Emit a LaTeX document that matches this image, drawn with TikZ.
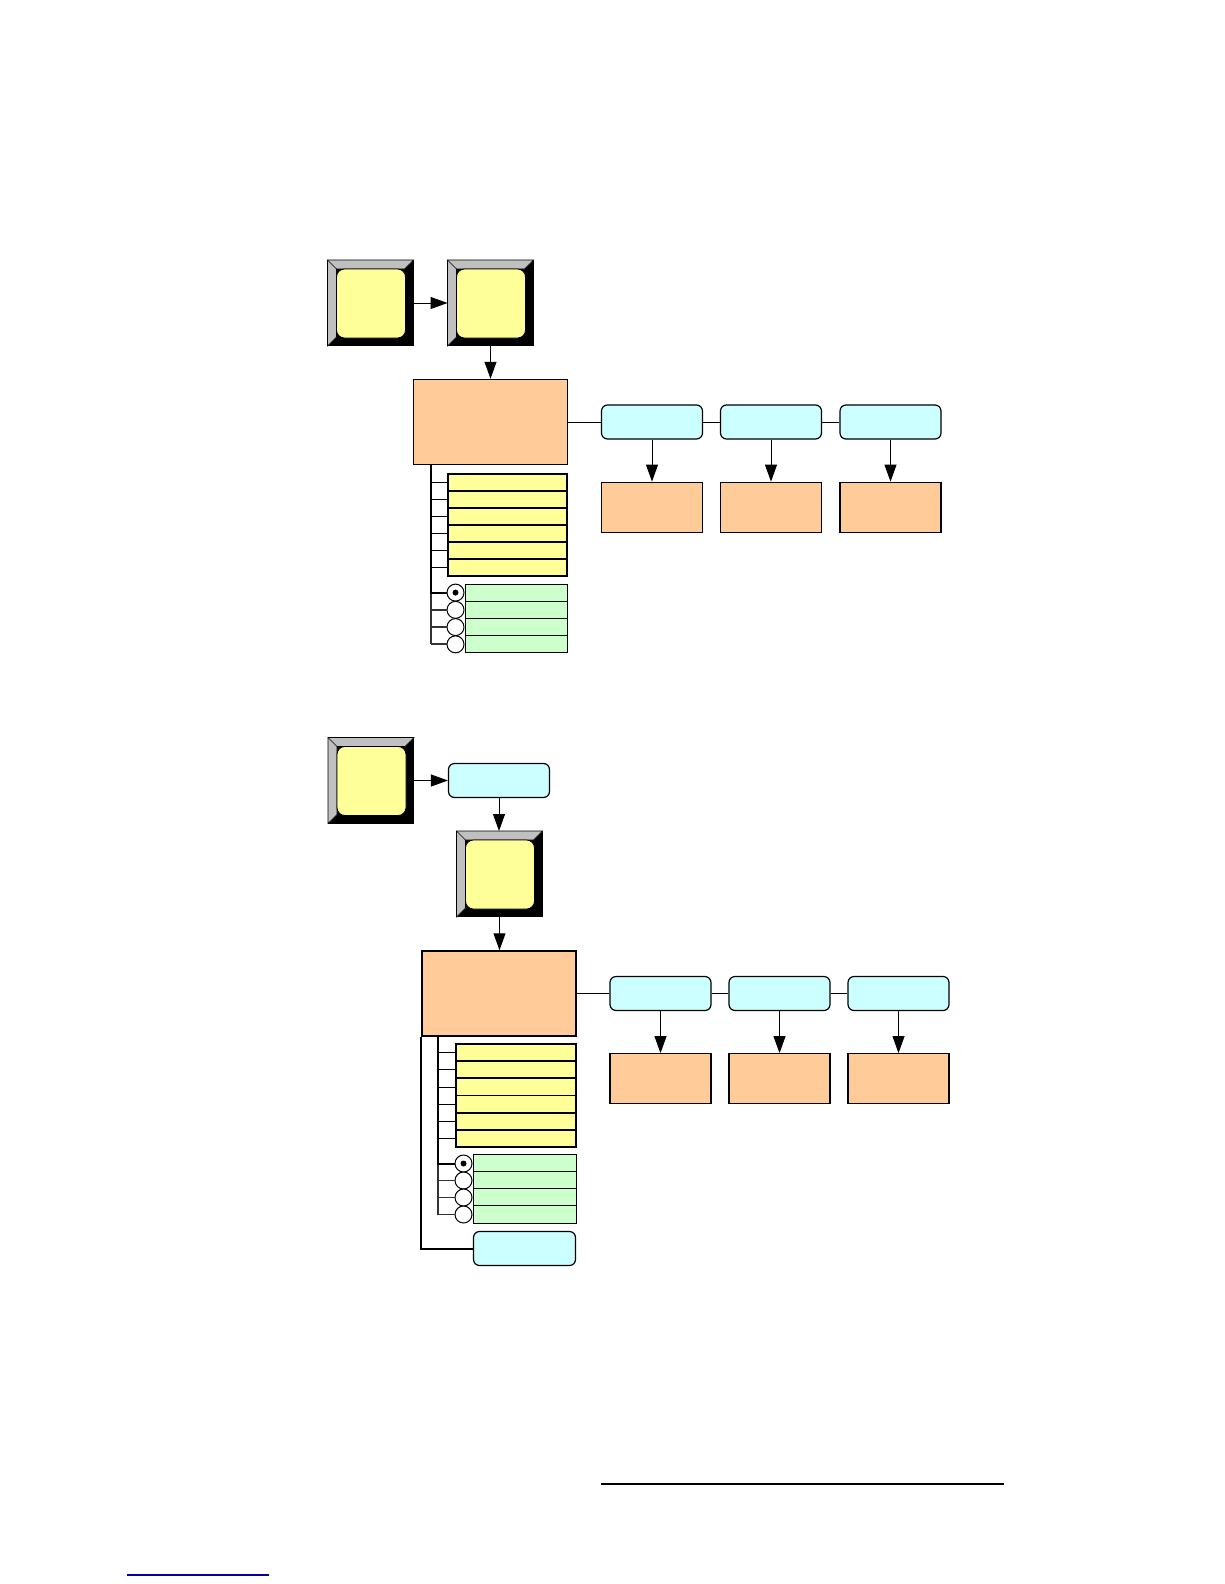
\documentclass[tikz,border=0pt]{standalone}
\usepackage{tikz}
\usetikzlibrary{arrows.meta, positioning, calc}
\definecolor{keyFace}{HTML}{FFFF99}
\definecolor{keyBevel}{HTML}{C0C0C0}
\definecolor{menuFill}{HTML}{FFCC99}
\definecolor{softFill}{HTML}{CCFFFF}
\definecolor{listYellow}{HTML}{FFFF99}
\definecolor{listGreen}{HTML}{CCFFCC}
\definecolor{ruleBlue}{HTML}{0000A0}

\tikzset{
  keycap/.style={draw, fill=black, line width=1pt, minimum size=85pt, inner sep=0pt},
  menubox/.style={draw, fill=menuFill, line width=1.5pt, minimum width=154pt, minimum height=85pt, inner sep=0pt},
  softkey/.style={draw, fill=softFill, rounded corners=6pt, line width=1.2pt, minimum width=101pt, minimum height=34pt, inner sep=0pt},
  itembox/.style={draw, fill=menuFill, line width=1.2pt, minimum width=101pt, minimum height=50pt, inner sep=0pt},
  yellowrow/.style={draw, fill=listYellow, line width=1.6pt, minimum width=119pt, minimum height=17pt, inner sep=0pt},
  greenrow/.style={draw, fill=listGreen, line width=1pt, minimum width=102pt, minimum height=17.2pt, inner sep=0pt},
  radio/.style={circle, draw, fill=white, line width=1pt, minimum size=17pt, inner sep=0pt},
  flow/.style={-{Triangle[length=17pt,width=12pt]}, line width=1pt},
  link/.style={line width=0.8pt},
  trunk/.style={line width=2pt},
  graytrunk/.style={line width=1.8pt, gray!40!black},
}

% bevel and face of a front-panel key
\newcommand{\keybevel}[1]{%
  \filldraw[fill=keyBevel, draw=black, line width=0.6pt]
    (#1.north west) -- (#1.north east) -- ([shift={(-9,9)}]#1.north east)
    -- ([shift={(9,9)}]#1.north west) -- ([shift={(9,-9)}]#1.south west)
    -- (#1.south west) -- cycle;
  \draw[line width=0.6pt] (#1.north west) -- ([shift={(9,9)}]#1.north west);
  \filldraw[fill=keyFace, draw=black, line width=0.8pt, rounded corners=8pt]
    ([shift={(9,9)}]#1.north west) rectangle ([shift={(-8,-8)}]#1.south east);
}

\begin{document}
\begin{tikzpicture}[x=1pt, y=-1pt]
  \useasboundingbox (0,0) rectangle (1224,1584);

  % --- upper path: two keys into the menu
  \node[keycap] (k1) at (370.5,303) {};
  \keybevel{k1}
  \node[keycap] (k2) at (490.5,303) {};
  \keybevel{k2}
  \draw[flow] (k1.east) -- (k2.west);

  \node[menubox] (m1) at (490.5,422) {};
  \draw[flow] (k2.south) -- (m1.north);

  \node[softkey] (b1) at (652,422) {};
  \node[softkey] (b2) at (771,422) {};
  \node[softkey] (b3) at (890.5,422) {};
  \draw[link] (m1.east) -- (b1.west);
  \draw[link] (b1.east) -- (b2.west);
  \draw[link] (b2.east) -- (b3.west);
  \foreach \n in {1,2,3} {
    \node[itembox, below=42pt of b\n] (p\n) {};
    \draw[flow] (b\n.south) -- (p\n.north);
  }

  \coordinate (ta) at ($(m1.south west)+(18,0)$);
  \foreach \i in {0,...,5} {
    \node[yellowrow] (ya\i) at (507.5,{482.5+17*\i}) {};
    \draw[link] (ta |- ya\i.west) -- (ya\i.west);
  }
  \foreach \i in {0,...,3} {
    \node[greenrow] (ga\i) at (516,{592.6+17.25*\i}) {};
    \node[radio, left=0pt of ga\i] (ra\i) {};
  }
  \fill (ra0) circle (3);
  \draw[graytrunk] (ta |- ra0.west) -- (ta |- ra3.west);
  \foreach \i in {1,2,3}
    \draw[graytrunk] (ta |- ra\i.west) -- (ra\i.west);
  \draw[trunk] (ta) -- (ta |- ra0.west) -- (ra0.west);

  % --- lower path: key, softkey, key into the menu
  \node[keycap] (k3) at (371,780.5) {};
  \keybevel{k3}
  \node[softkey] (bb) at (499,780.5) {};
  \draw[flow] (k3.east) -- (bb.west);
  \node[keycap] (k4) at (499.5,874) {};
  \keybevel{k4}
  \draw[flow] (bb.south) -- (bb.south |- k4.north);

  \node[menubox] (m2) at (499,993.5) {};
  \draw[flow] (k4.south) -- (k4.south |- m2.north);

  \node[softkey] (b4) at (660.5,993.5) {};
  \node[softkey] (b5) at (779.5,993.5) {};
  \node[softkey] (b6) at (898.5,993.5) {};
  \draw[link] (m2.east) -- (b4.west);
  \draw[link] (b4.east) -- (b5.west);
  \draw[link] (b5.east) -- (b6.west);
  \foreach \n in {4,5,6} {
    \node[itembox, below=42pt of b\n] (p\n) {};
    \draw[flow] (b\n.south) -- (p\n.north);
  }

  \coordinate (tb) at ($(m2.south west)+(17,0)$);
  \foreach \i in {0,...,5} {
    \node[yellowrow, minimum width=120pt] (yb\i) at (516,{1052.6+17.17*\i}) {};
    \draw[link] (tb |- yb\i.west) -- (yb\i.west);
  }
  \foreach \i in {0,...,3} {
    \node[greenrow, minimum width=103pt] (gb\i) at (524.5,{1163.5+17*\i}) {};
    \node[radio, left=0pt of gb\i] (rb\i) {};
  }
  \fill (rb0) circle (3);
  \draw[graytrunk] (tb |- rb0.west) -- (tb |- rb3.west);
  \foreach \i in {1,2,3}
    \draw[graytrunk] (tb |- rb\i.west) -- (rb\i.west);
  \draw[trunk] (tb) -- (tb |- rb0.west) -- (rb0.west);

  \node[softkey, minimum width=102pt] (b7) at (524.5,1248.5) {};
  \draw[trunk] (m2.south west) -- (m2.south west |- b7.west) -- (b7.west);

  % --- page rules
  \draw[line width=1.2pt] (601,1484) -- (1004,1484);
  \draw[ruleBlue, line width=1.5pt] (127,1575) -- (269,1575);
\end{tikzpicture}
\end{document}
